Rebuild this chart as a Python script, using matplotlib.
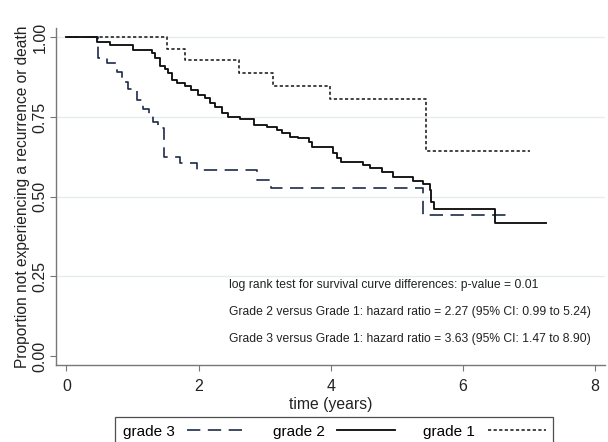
import matplotlib
matplotlib.use("Agg")
import matplotlib.pyplot as plt

plt.rcParams["font.family"] = ["Liberation Sans", "DejaVu Sans"]

# Kaplan-Meier step points (time in years, proportion)
g3_time = [0, 0.47, 0.61, 0.76, 0.835, 0.935, 1.06, 1.16, 1.25, 1.31, 1.39, 1.47,
           1.72, 1.97, 2.88, 3.10, 5.40, 6.76]
g3_surv = [1.0, 0.935, 0.921, 0.893, 0.861, 0.837, 0.804, 0.775, 0.757, 0.736, 0.715,
           0.626, 0.605, 0.584, 0.553, 0.528, 0.443, 0.443]

g2_time = [0, 0.46, 0.66, 1.01, 1.29, 1.34, 1.41, 1.49, 1.54, 1.59, 1.67, 1.79, 1.89,
           1.99, 2.10, 2.17, 2.25, 2.35, 2.45, 2.63, 2.83, 3.03, 3.18, 3.26, 3.38,
           3.51, 3.67, 3.71, 4.04, 4.10, 4.16, 4.49, 4.59, 4.77, 4.94, 5.25, 5.40,
           5.50, 5.52, 5.56, 6.49, 7.26]
g2_surv = [1.0, 0.987, 0.976, 0.961, 0.950, 0.935, 0.91, 0.90, 0.887, 0.867, 0.858,
           0.848, 0.835, 0.819, 0.809, 0.793, 0.783, 0.762, 0.749, 0.743, 0.725, 0.720,
           0.710, 0.699, 0.689, 0.684, 0.673, 0.657, 0.636, 0.621, 0.610, 0.600, 0.589,
           0.579, 0.563, 0.550, 0.540, 0.521, 0.484, 0.461, 0.417, 0.417]

g1_time = [0, 1.52, 1.80, 2.61, 3.13, 3.99, 5.44, 7.01]
g1_surv = [1.0, 0.963, 0.929, 0.889, 0.846, 0.806, 0.644, 0.644]

notes = [
    "log rank test for survival curve differences: p-value = 0.01",
    "Grade 2 versus Grade 1: hazard ratio = 2.27 (95% CI: 0.99 to 5.24)",
    "Grade 3 versus Grade 1: hazard ratio = 3.63 (95% CI: 1.47 to 8.90)",
]
note_y = [0.223, 0.137, 0.053]

fig = plt.figure(figsize=(6.08, 4.42), dpi=100)
ax = fig.add_axes([0.092, 0.174, 0.903, 0.763])

ax.step(g3_time, g3_surv, where="post", color="#1c2a4a", lw=1.2,
        dashes=(8, 4.5), label="grade 3")
ax.step(g2_time, g2_surv, where="post", color="#111111", lw=1.35, label="grade 2")
ax.step(g1_time, g1_surv, where="post", color="#1a1a1a", lw=1.15,
        dashes=(2.0, 1.5), label="grade 1")

for txt, yy in zip(notes, note_y):
    ax.text(2.46, yy, txt, fontsize=8.75, color="#222222", va="center", ha="left")

ax.set_xlim(-0.159, 8.147)
ax.set_ylim(-0.028, 1.03)
ax.set_xticks([0, 2, 4, 6, 8])
ax.set_yticks([0, 0.25, 0.5, 0.75, 1.0])
ax.set_yticklabels(["0.00", "0.25", "0.50", "0.75", "1.00"], rotation=90, va="center")
for yg in [0.25, 0.5, 0.75, 1.0]:
    ax.axhline(yg, color="#e6ecee", lw=1.0, zorder=0)

for side in ["top", "right"]:
    ax.spines[side].set_visible(False)
for side in ["left", "bottom"]:
    ax.spines[side].set_color("#777777")
    ax.spines[side].set_linewidth(1.0)
ax.tick_params(direction="out", length=4, color="#777777", labelsize=11.5,
               labelcolor="#222222")
ax.tick_params(axis="x", pad=6)
ax.tick_params(axis="y", pad=2)

ax.set_xlabel("time (years)", fontsize=11.3, color="#222222", labelpad=2)
ax.set_ylabel("Proportion not experiencing a recurrence or death", fontsize=11.2,
              color="#222222", labelpad=2)

leg = fig.legend(loc="upper left", bbox_to_anchor=(115 / 608, 1 - 417 / 442),
                 borderaxespad=0, ncol=3, markerfirst=False, fontsize=11,
                 frameon=True, fancybox=False, edgecolor="#222222",
                 handlelength=3.8, columnspacing=1.85, handletextpad=0.8,
                 borderpad=0.5)
leg.get_frame().set_linewidth(0.9)

fig.savefig("out.png", dpi=100)
